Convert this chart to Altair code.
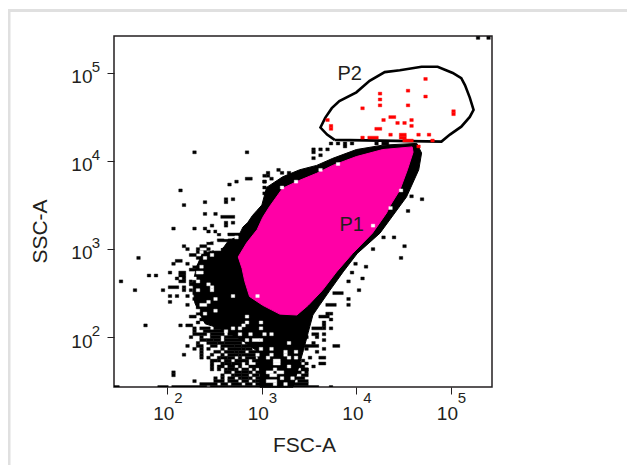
import altair as alt
import pandas as pd

# Log10 gate / population outlines
blob_x = [4.64,4.69,4.66,4.53,4.25,4.01,3.86,3.72,3.61,3.54,3.49,3.44,3.40,3.33,3.28,3.10,2.98,2.98,2.95,2.77,2.55,2.40,2.34,2.29,2.27,2.31,2.37,2.45,2.59,2.65,2.75,2.80,2.85,2.90,2.95,3.00,3.05,3.22,3.40,3.58,3.75,4.00,4.28,4.64]
blob_y = [4.20,4.09,3.90,3.59,3.18,2.95,2.74,2.53,2.36,2.25,2.05,1.85,1.70,1.43,1.43,1.43,1.43,1.62,1.84,1.98,2.10,2.15,2.27,2.39,2.61,2.80,2.95,2.97,3.01,3.10,3.14,3.25,3.30,3.38,3.44,3.50,3.70,3.82,3.90,3.95,4.03,4.13,4.18,4.20]
p1_x = [4.59,4.28,4.00,3.75,3.58,3.40,3.22,3.08,3.01,2.95,2.84,2.75,2.79,2.82,2.87,3.01,3.19,3.37,3.49,3.64,3.79,3.96,4.17,4.32,4.35,4.46,4.54,4.60,4.59]
p1_y = [4.16,4.13,4.05,3.95,3.86,3.78,3.69,3.48,3.36,3.22,3.07,2.91,2.78,2.63,2.46,2.36,2.26,2.25,2.36,2.53,2.74,2.95,3.18,3.41,3.48,3.67,3.90,4.10,4.16]
p2_x = [3.77,4.90,4.99,5.11,5.20,5.24,5.20,5.15,5.11,5.02,4.86,4.69,4.46,4.30,4.14,4.00,3.82,3.74,3.67,3.62,3.69,3.77]
p2_y = [4.24,4.22,4.30,4.39,4.50,4.58,4.72,4.86,4.94,5.00,5.07,5.07,5.03,5.01,4.91,4.78,4.68,4.60,4.49,4.38,4.30,4.24]

# Histogram bins (row, first column, last column) of the 2-D dot plot
black_runs = [
 (119,104,104),(119,107,107),
 (83,62,62),(83,64,64),(83,66,66),(83,68,68),(82,66,66),(83,75,75),(83,77,78),(81,57,57),(81,59,59),(81,61,61),(80,57,57),(79,59,59),(78,57,57),
 (80,23,23),(80,38,38),(67,19,19),(62,20,20),(69,33,33),(70,35,35),(71,38,39),(70,43,43),(72,44,44),(68,43,43),(66,43,43),(63,26,26),(63,32,32),(64,32,32),(64,34,34),
 (59,26,26),(59,29,29),(58,31,34),(55,28,28),(55,32,32),(56,32,32),(56,34,34),(54,17,17),(54,23,23),(54,26,26),(53,27,27),(53,29,29),(52,30,30),(74,47,47),(73,44,44),(73,48,48),(73,50,50),(72,43,43),(71,45,45),(70,43,43),
 (48,20,20),(47,21,21),(47,24,24),(48,25,26),(47,27,27),(45,22,23),(43,18,19),(42,17,17),(42,21,21),(39,16,16),(39,19,20),(38,19,20),(37,18,18),(37,20,20),(36,19,20),(36,22,22),
 (34,16,18),(34,20,20),(33,20,20),(33,22,22),(31,16,16),(31,18,18),(31,21,21),(29,16,16),(28,21,21),(24,22,23),
 (44,7,7),(36,2,2),(33,6,6),(38,10,10),(38,12,12),(21,9,9),(33,14,14),
 (50,30,33),(52,33,36),(49,27,28),(46,24,26),(44,24,25),(41,23,24),(40,22,23),(35,22,23),(32,23,23),(30,23,24),(27,24,25),(25,24,26),(23,25,28),
 (21,19,19),(21,21,22),(22,24,24),
 (20,23,23),(20,25,27),(20,29,31),(19,23,23),(19,26,31),(19,33,33),(18,23,26),(18,28,31),(18,33,35),(18,37,38),
 (17,22,22),(17,25,25),(17,28,30),(17,32,37),(17,39,41),(16,25,26),(16,29,30),(16,32,37),(16,39,39),
 (15,24,24),(15,27,29),(15,32,36),(15,38,41),(14,21,21),(14,24,25),(14,28,29),(14,31,34),(14,37,41),
 (13,23,23),(13,25,25),(13,27,27),(13,31,31),(13,33,36),(13,38,39),(12,25,25),(12,29,30),(12,32,34),(12,36,37),(12,39,41),
 (11,20,20),(11,25,25),(11,28,28),(11,31,31),(11,33,35),(11,37,41),(10,25,25),(10,27,27),(10,30,30),(10,33,34),(10,36,36),(10,38,40),
 (9,30,30),(9,32,33),(9,35,38),(9,40,43),(8,28,28),(8,31,31),(8,34,36),(8,38,38),(8,41,43),(7,28,28),(7,33,34),(7,36,36),(7,39,41),(7,44,44),
 (6,28,28),(6,30,30),(6,32,32),(6,35,35),(6,37,38),(6,40,40),(6,42,44),(5,17,17),(5,32,33),(5,35,36),(5,39,39),(5,41,42),(5,44,44),
 (4,17,17),(4,31,31),(4,34,34),(4,37,38),(4,40,41),(4,43,44),(3,29,29),(3,31,31),(3,33,34),(3,36,36),(3,39,39),(3,41,42),(3,44,44),
 (2,23,23),(2,29,31),(2,33,35),(2,37,38),(2,40,40),(2,43,43),(1,25,29),(1,31,32),(1,34,36),(1,38,39),(1,41,44),
 (8,32,33),(7,30,31),(6,33,34),(5,37,38),(4,35,36),(3,37,38),(2,41,42),(10,31,32),(12,35,35),(14,35,36),(16,27,28),(11,36,36),(13,37,37),(15,30,31),(9,28,29),
 (1,50,55),(2,53,55),(3,52,54),(4,51,51),(4,54,55),(5,51,53),(5,55,55),(6,52,52),(6,54,55),(7,52,54),(8,53,53),(8,55,55),
 (0,0,1),(0,13,15),(0,17,26),(0,28,44),(0,46,58),(0,62,62),
 (60,84,84),(51,80,80),(51,77,77),(48,83,83),(44,82,82),(47,74,74),(37,71,71),(36,67,67),(39,68,68),(42,69,69),(30,67,67),(28,67,67),(32,63,65),(28,61,63),(25,61,61),(30,59,59),(65,85,85),(64,88,88),(41,72,72),(33,70,70),
 (25,62,62),(24,59,61),(20,57,59),(20,60,60),(21,60,60),(22,60,60),(23,62,62),(18,57,58),(20,62,62),(18,60,60),(17,55,55),(15,57,57),(17,58,58),(16,60,60),(14,63,64),(14,55,58),(13,55,55),(12,58,58),(13,60,60),(10,56,56),(10,59,60),(9,54,54),(7,57,57),(8,59,60),(6,54,55),
]
white_runs = [
 (42,23,23),(35,27,27),(37,23,23),(33,28,28),(34,28,28),(30,29,29),(31,34,34),(26,29,29),(29,27,27),(26,24,24),(24,38,38),(25,26,26),
 (36,24,24),(39,24,25),(41,25,25),(44,26,26),(33,24,24),(28,25,26),
 (51,35,35),(49,29,29),(50,27,27),(51,27,27),(51,32,32),(53,30,30),(47,29,30),(45,28,28),(46,25,25),
 (20,36,36),(21,37,37),(22,38,38),(22,42,42),(20,42,42),(19,32,32),(20,34,34),(18,36,36),(18,39,39),(16,38,38),(16,42,42),
 (18,43,43),(18,45,45),(16,40,41),(15,50,50),(13,45,45),(13,42,42),(11,49,49),(12,49,49),(11,45,45),(12,52,52),(10,50,50),(10,52,52),(10,44,44),(8,46,47),(9,46,47),(11,41,41),
 (6,46,46),(5,47,48),(4,45,46),(3,48,48),(2,44,46),(1,46,46),(5,44,45),(7,50,50),(3,51,51),(1,49,49),
]
pink_holes = [(74,59,59),(76,64,64),(70,52,52),(68,48,48),(67,82,82),(55,74,74),(31,41,41),(61,79,79)]
red_runs = [
 (105,89,89),(101,84,84),(100,76,76),(99,89,89),(98,76,76),(96,76,76),(96,84,84),(95,71,71),(94,97,97),(93,97,97),(92,79,80),
 (91,77,77),(91,85,85),(90,81,81),(90,83,83),(89,85,85),(91,61,61),(89,62,62),(88,62,62),(88,75,76),(86,79,79),(86,87,87),(86,90,90),
 (85,71,71),(85,73,75),(86,82,83),(85,82,83),(84,83,85),(84,91,91),(82,87,87),
]

LOGX0, LOGY0, COLS_PER_DECADE, ROWS_PER_DECADE = 1.4355, 1.432, 27.0, 30.0
tick_values = [100, 1000, 10000, 100000]
exponents = ["2", "3", "4", "5"]
gate_labels = ["P1", "P2"]
gate_x = [10 ** 3.95, 10 ** 3.93]
gate_y = [10 ** 3.27, 10 ** 4.99]

def cells(runs):
    rows = []
    for r, a, b in runs:
        rows.append({
            "x0": 10 ** (LOGX0 + (a - .5) / COLS_PER_DECADE),
            "x1": 10 ** (LOGX0 + (b + .5) / COLS_PER_DECADE),
            "y0": 10 ** (LOGY0 + (r - .5) / ROWS_PER_DECADE),
            "y1": 10 ** (LOGY0 + (r + .5) / ROWS_PER_DECADE),
        })
    return pd.DataFrame(rows)

def outline(xs, ys):
    return pd.DataFrame({"x": [10 ** v for v in xs], "y": [10 ** v for v in ys], "i": range(len(xs))})

INK = "#231f20"
FONT = "Liberation Sans"
sx = alt.Scale(type="log", domain=[10 ** LOGX0, 10 ** 5.435], nice=False)
sy = alt.Scale(type="log", domain=[10 ** LOGY0, 10 ** 5.42], nice=False)

x_axis = alt.Axis(values=tick_values, labelExpr="'10'", labelFontSize=19, labelFont=FONT, labelColor=INK,
                  tickSize=7, tickColor=INK, tickWidth=1, grid=False, domain=False, labelPadding=10, labelOffset=-4,
                  title="FSC-A", titleFontSize=21, titleFont=FONT, titleFontWeight="normal", titleColor=INK,
                  titleX=190, titleY=47)
y_axis = alt.Axis(values=tick_values, labelExpr="'10'", labelFontSize=19, labelFont=FONT, labelColor=INK,
                  tickSize=7, tickColor=INK, tickWidth=1, grid=False, domain=False, labelPadding=15, labelOffset=4,
                  title="SSC-A", titleFontSize=21, titleFont=FONT, titleFontWeight="normal", titleColor=INK,
                  titleX=-64, titleY=195)

def poly(df, fill):
    return alt.Chart(df).mark_line(fill=fill, stroke=fill, strokeWidth=1, interpolate="linear").encode(
        x=alt.X("x:Q", scale=sx, axis=x_axis), y=alt.Y("y:Q", scale=sy, axis=y_axis), order="i:Q")

def rects(df, colour):
    return alt.Chart(df).mark_rect(color=colour, stroke=colour, strokeWidth=0.4, clip=True).encode(
        x=alt.X("x0:Q", scale=sx, axis=x_axis), x2="x1:Q",
        y=alt.Y("y0:Q", scale=sy, axis=y_axis), y2="y1:Q")

frame_top = alt.Chart(pd.DataFrame({"a": [0]})).mark_rule(color="#e0e0e0", strokeWidth=3).encode(
    x=alt.value(-106), x2=alt.value(513), y=alt.value(-25.5))
frame_left = alt.Chart(pd.DataFrame({"a": [0]})).mark_rule(color="#e0e0e0", strokeWidth=3).encode(
    x=alt.value(-105), y=alt.value(-27), y2=alt.value(429))

p2_line = alt.Chart(outline(p2_x, p2_y)).mark_line(color="black", strokeWidth=2.6, interpolate="linear").encode(
    x=alt.X("x:Q", scale=sx, axis=x_axis), y=alt.Y("y:Q", scale=sy, axis=y_axis), order="i:Q")

gate_text = alt.Chart(pd.DataFrame({"x": gate_x, "y": gate_y, "t": gate_labels})).mark_text(
    fontSize=20, font=FONT, color=INK).encode(
    x=alt.X("x:Q", scale=sx, axis=x_axis), y=alt.Y("y:Q", scale=sy, axis=y_axis), text="t:N")

exp_x = alt.Chart(pd.DataFrame({"x": tick_values, "t": exponents})).mark_text(
    fontSize=15, font=FONT, color=INK, dx=11, baseline="alphabetic").encode(
    x=alt.X("x:Q", scale=sx, axis=x_axis), y=alt.value(367), text="t:N")
exp_y = alt.Chart(pd.DataFrame({"y": tick_values, "t": exponents})).mark_text(
    fontSize=15, font=FONT, color=INK, dy=-6).encode(
    y=alt.Y("y:Q", scale=sy, axis=y_axis), x=alt.value(-18), text="t:N")

chart = alt.layer(
    frame_top, frame_left,
    poly(outline(blob_x, blob_y), "black"),
    rects(cells(black_runs), "black"),
    rects(cells(white_runs), "white"),
    poly(outline(p1_x, p1_y), "#ff00a6"),
    rects(cells(pink_holes), "white"),
    p2_line,
    rects(cells(red_runs), "#ff0000"),
    gate_text, exp_x, exp_y,
).properties(
    width=378, height=351,
    padding={"left": 106, "top": 28, "right": 135, "bottom": 78},
    autosize=alt.AutoSizeParams(type="none"),
    background="white",
).configure_view(stroke=INK, strokeWidth=1.5)

chart.save("out.html", embed_options={"renderer": "svg", "actions": False})
